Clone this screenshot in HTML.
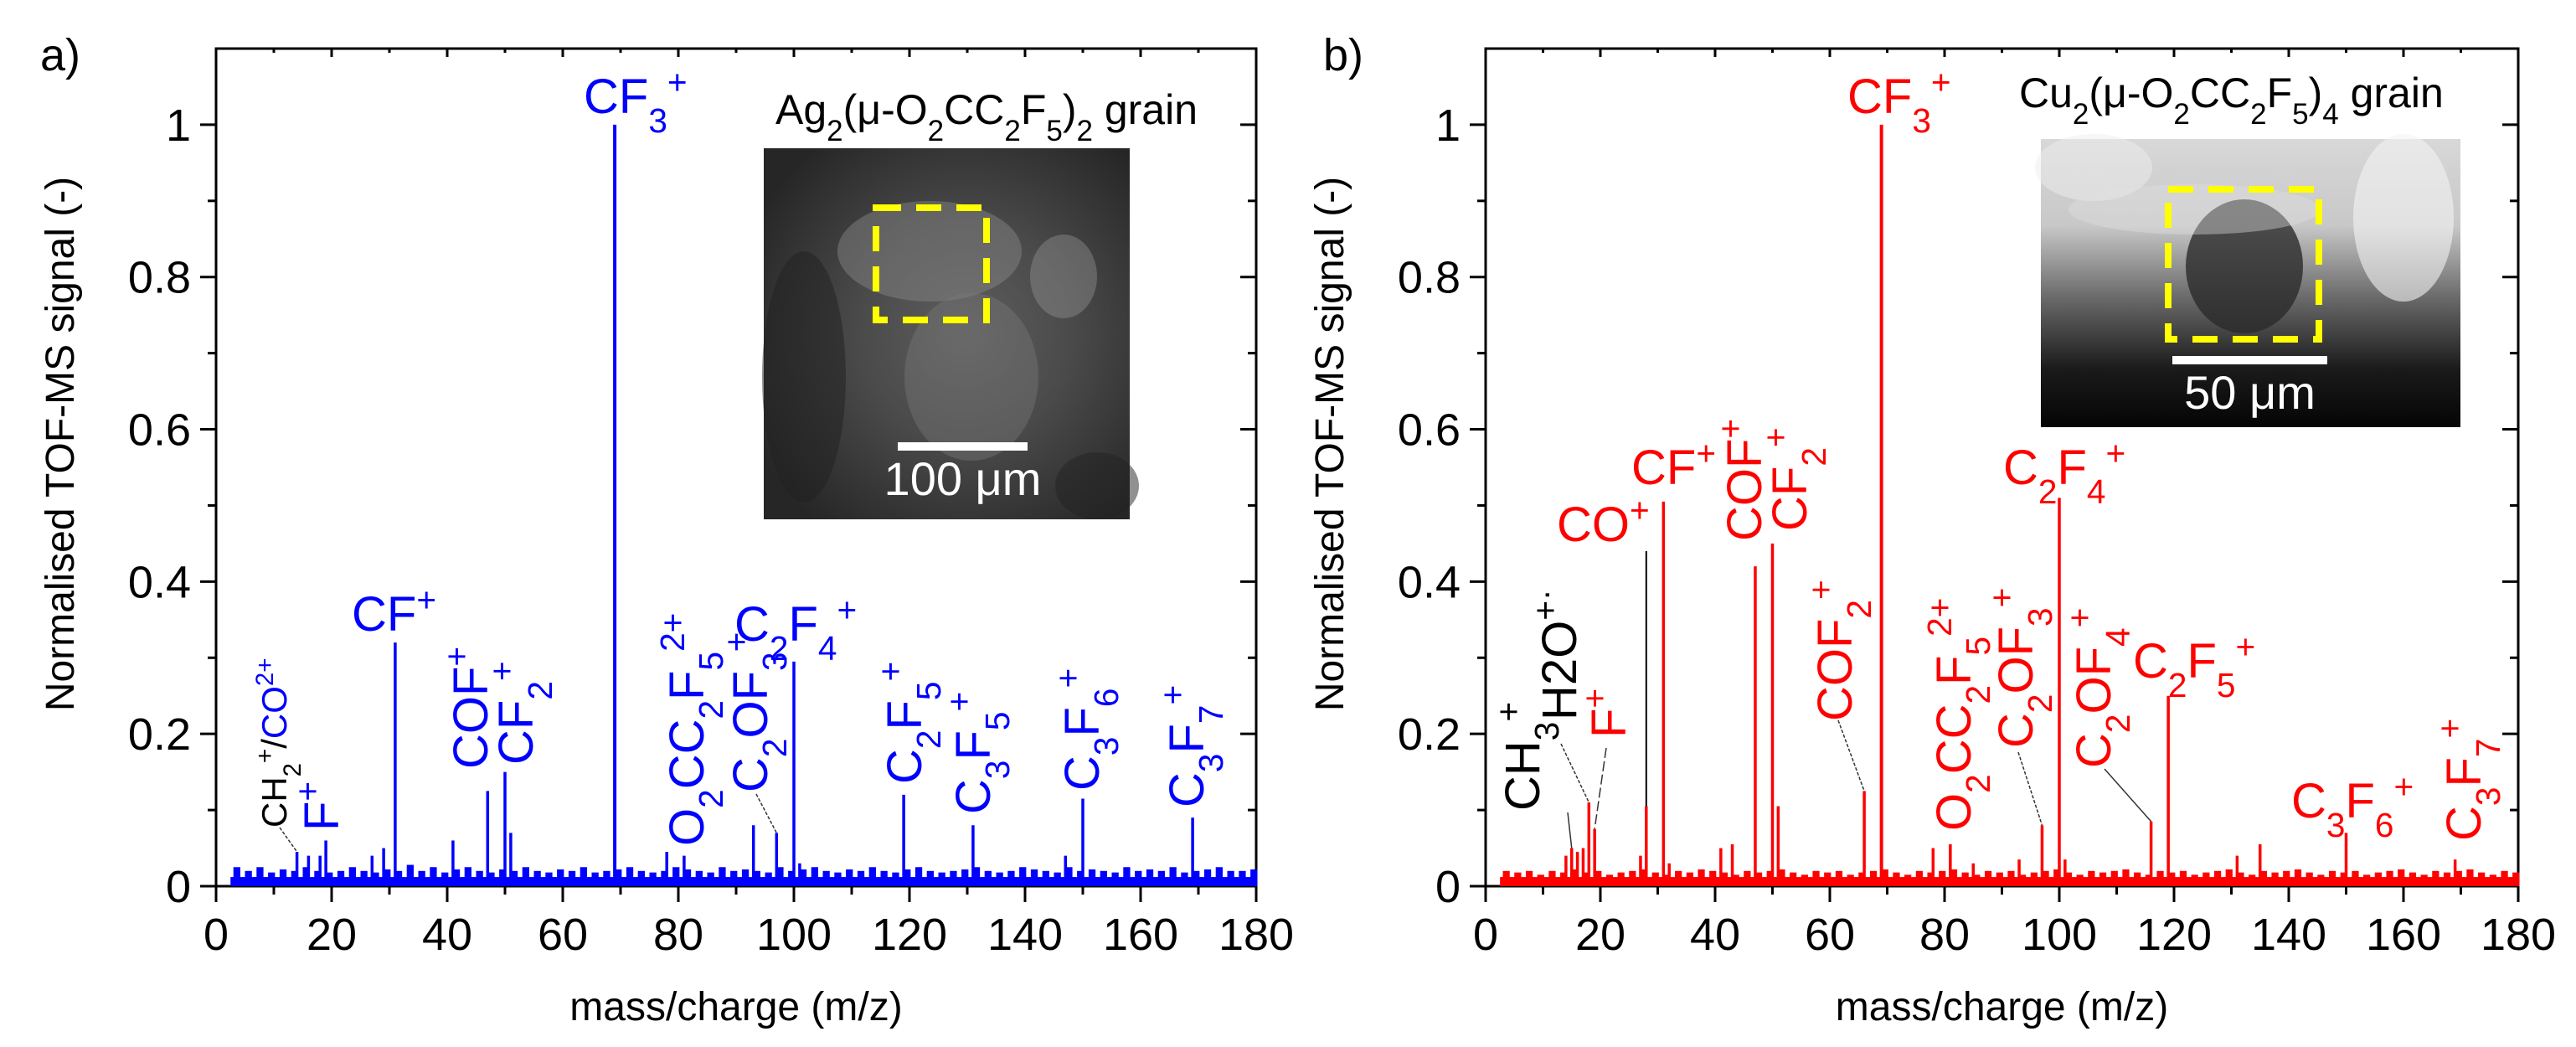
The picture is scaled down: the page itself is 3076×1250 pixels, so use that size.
<!DOCTYPE html>
<html><head><meta charset="utf-8">
<style>
html,body{margin:0;padding:0;background:#fff;}
svg{display:block;font-family:"Liberation Sans",sans-serif;}
</style></head>
<body>
<svg id="fig" width="3076" height="1250" viewBox="0 0 3076 1250" xmlns="http://www.w3.org/2000/svg">
<defs>
<radialGradient id="semA" cx="0.55" cy="0.5" r="0.65">
<stop offset="0" stop-color="#5e5e5e"/><stop offset="0.45" stop-color="#4a4a4a"/><stop offset="1" stop-color="#262626"/>
</radialGradient>
<linearGradient id="semB" x1="0" y1="0" x2="0" y2="1">
<stop offset="0" stop-color="#d8d8d8"/><stop offset="0.3" stop-color="#c8c8c8"/><stop offset="0.55" stop-color="#6a6a6a"/><stop offset="0.8" stop-color="#1a1a1a"/><stop offset="1" stop-color="#050505"/>
</linearGradient>
</defs>
<g id="panelA"></g>
<g id="panelB"></g>
</svg>
<script>
// ---------- data ----------
const xTicks = [0,20,40,60,80,100,120,140,160,180];
const yTicks = [0,0.2,0.4,0.6,0.8,1];
const yTickLabels = ["0","0.2","0.4","0.6","0.8","1"];
// panel a peaks
const peaksA_mz  = [14,16,18,19,27,29,31,41,47,50,51,69,78,81,93,97,100,101,119,131,147,150,169];
const peaksA_val = [0.045,0.04,0.04,0.06,0.04,0.05,0.32,0.06,0.125,0.15,0.07,1.0,0.045,0.04,0.08,0.07,0.295,0.03,0.12,0.08,0.04,0.115,0.09];
// panel b peaks
const peaksB_mz  = [14,15,16,17,18,19,27,28,31,32,41,43,47,50,51,66,69,78,81,85,93,97,100,101,116,119,131,135,150,169];
const peaksB_val = [0.04,0.05,0.045,0.05,0.11,0.075,0.04,0.105,0.505,0.03,0.05,0.055,0.42,0.45,0.105,0.125,1.0,0.05,0.055,0.03,0.035,0.08,0.51,0.035,0.085,0.25,0.04,0.055,0.07,0.035];
// baseline noise (every 2 m/z from 3)
const noiseA = [0.025,0.02,0.025,0.018,0.022,0.02,0.025,0.02,0.018,0.02,0.025,0.02,0.018,0.022,0.02,0.028,0.02,0.025,0.018,0.022,0.025,0.02,0.018,0.022,0.02,0.025,0.02,0.018,0.022,0.02,0.025,0.018,0.02,0.022,0.025,0.02,0.018,0.02,0.025,0.022,0.02,0.018,0.025,0.02,0.022,0.02,0.018,0.025,0.02,0.022,0.025,0.02,0.018,0.022,0.02,0.025,0.02,0.018,0.022,0.025,0.02,0.018,0.02,0.022,0.025,0.02,0.018,0.02,0.025,0.022,0.02,0.018,0.025,0.02,0.022,0.02,0.018,0.025,0.02,0.022,0.02,0.025,0.018,0.02,0.022,0.025,0.02,0.02,0.022];
const noiseB = [0.02,0.018,0.02,0.015,0.02,0.018,0.022,0.018,0.02,0.015,0.018,0.02,0.022,0.018,0.015,0.02,0.018,0.022,0.02,0.018,0.015,0.02,0.018,0.02,0.022,0.018,0.015,0.02,0.018,0.02,0.015,0.018,0.02,0.022,0.018,0.015,0.02,0.018,0.02,0.022,0.018,0.015,0.02,0.018,0.02,0.015,0.018,0.02,0.022,0.018,0.015,0.02,0.018,0.02,0.022,0.018,0.015,0.02,0.018,0.02,0.015,0.018,0.02,0.022,0.018,0.015,0.02,0.018,0.02,0.022,0.018,0.015,0.02,0.018,0.02,0.015,0.018,0.02,0.022,0.018,0.015,0.02,0.018,0.02,0.022,0.018,0.015,0.02,0.018];

const NS="http://www.w3.org/2000/svg";
function mk(parent, tag, attrs){
  const e=document.createElementNS(NS,tag);
  for(const k in attrs) e.setAttribute(k,attrs[k]);
  parent.appendChild(e); return e;
}
const sub=t=>`<tspan baseline-shift="sub" font-size="70%">${t}</tspan>`;
const sup=t=>`<tspan baseline-shift="super" font-size="70%">${t}</tspan>`;

function panel(g, P){
  const L=P.left, R=P.right, T=58, B=1058;
  const xs=v=>L+(v/180)*(R-L);
  const ys=v=>B-(v/1.1)*(B-T);
  const box=mk(g,'rect',{x:L,y:T,width:R-L,height:B-T,fill:'none',stroke:'#000','stroke-width':3});
  
  
  for(let v=0; v<=180; v+=10){
    const major = v%20===0;
    const t=mk(g,'line',{x1:xs(v),x2:xs(v),y1:B,y2:B+(major?19:10),stroke:'#000','stroke-width':3});
    
    
    const t2=mk(g,'line',{x1:xs(v),x2:xs(v),y1:T,y2:T+(major?10:5),stroke:'#000','stroke-width':3});
    
    
  }
  xTicks.forEach(v=>{
    const tx=mk(g,'text',{x:xs(v),y:1134,'font-size':54,'text-anchor':'middle',fill:'#000'});
    tx.textContent=String(v);
    
    
  });
  for(let i=0;i<=10;i++){
    const v=i*0.1, major=i%2===0;
    const t=mk(g,'line',{x1:L-(major?19:10),x2:L,y1:ys(v),y2:ys(v),stroke:'#000','stroke-width':3});
    
    
    const t2=mk(g,'line',{x1:R-(major?19:10),x2:R,y1:ys(v),y2:ys(v),stroke:'#000','stroke-width':3});
    
    
  }
  yTicks.forEach((v,i)=>{
    const tx=mk(g,'text',{x:L-30,y:ys(v)+19,'font-size':54,'text-anchor':'end',fill:'#000'});
    tx.textContent=yTickLabels[i];
    
    
  });
  const yt=mk(g,'text',{x:0,y:0,'font-size':48,'text-anchor':'middle',fill:'#000',transform:`translate(${P.ytx},530) rotate(-90)`});
  yt.textContent='Normalised TOF-MS signal (-)';
  
  
  const xt=mk(g,'text',{x:(L+R)/2,y:1218,'font-size':48,'text-anchor':'middle',fill:'#000'});
  xt.textContent='mass/charge (m/z)';
  
  
  const pl=mk(g,'text',{x:P.plx,y:84,'font-size':54,fill:'#000'});
  pl.textContent=P.tag;
  
  
  const base=mk(g,'rect',{x:xs(2.5),y:ys(0.012),width:xs(180)-xs(2.5),height:B-ys(0.012),fill:P.color});
  
  
  P.noise.forEach((v,i)=>{
    const m=3+i*2;
    const r=mk(g,'rect',{x:xs(m),y:ys(v),width:xs(m+1.2)-xs(m),height:B-ys(v),fill:P.color});
    
    
  });
  P.mz.forEach((m,i)=>{
    const ln=mk(g,'line',{x1:xs(m),x2:xs(m),y1:B,y2:ys(P.val[i]),stroke:P.color,'stroke-width':m===69?4:3.5});
    
    
  });
  P.leaders.forEach(d=>{
    const l=mk(g,'line',{x1:d[0],y1:d[1],x2:xs(d[2]),y2:ys(d[3]),stroke:'#333','stroke-width':1.5,'stroke-dasharray':d[4]||'4,2'});
    
    
  });
  (P.vleaders||[]).forEach(d=>{
    const l=mk(g,'line',{x1:xs(d[0]),y1:ys(d[2]),x2:xs(d[0]),y2:ys(d[1]),stroke:'#000','stroke-width':2});
    
    
  });
  P.labels.forEach(d=>{
    const [x,y,html,rot,col,fs]=d;
    const t=mk(g,'text',{x:0,y:0,'font-size':fs||58,fill:col||P.color,transform:rot?`translate(${x},${y}) rotate(-90)`:`translate(${x},${y})`});
    t.innerHTML=html;
    
    
  });
  const I=P.inset;
  const ti=mk(g,'text',{x:I.tx,y:I.ty,'font-size':50,fill:'#000'});
  ti.innerHTML=I.title;
  
  
  const img=mk(g,'g',{});
  
  
  mk(img,'rect',{x:I.x,y:I.y,width:I.w,height:I.h,fill:I.fill});
  I.blobs.forEach(b=>mk(img,'ellipse',{cx:b[0],cy:b[1],rx:b[2],ry:b[3],fill:b[4],opacity:b[5]}));
  const yb=mk(g,'rect',{x:I.bx,y:I.by,width:I.bw,height:I.bh,fill:'none',stroke:'#ffff00','stroke-width':8,'stroke-dasharray':'30,18'});
  
  
  const sb=mk(g,'rect',{x:I.sx1,y:I.sy-5,width:I.sx2-I.sx1,height:10,fill:'#fff'});
  
  
  const st=mk(g,'text',{x:(I.sx1+I.sx2)/2,y:I.sy+58,'font-size':56,'text-anchor':'middle',fill:'#fff'});
  st.textContent=I.scale;
  
  
}

panel(document.getElementById('panelA'),{
  left:258,right:1500,color:'#0000ff',ytx:88,plx:48,tag:'a)',
  mz:peaksA_mz,val:peaksA_val,noise:noiseA,
  leaders:[[334,988,14,0.045],[903,948,97,0.07]],
  labels:[
    [697,135,'CF'+sub('3')+sup('+'),0],
    [420,753,'CF'+sup('+'),0],
    [877,765,'C'+sub('2')+'F'+sub('4')+sup('+'),0],
    [342,988,'<tspan fill="#000">CH'+sub('2')+sup('+')+'/</tspan>CO'+sup('2+'),1,'#0000ff',42],
    [404,992,'F'+sup('+'),1],
    [582,918,'COF'+sup('+'),1],
    [636,913,'CF'+sub('2')+sup('+'),1],
    [840,1010,'O'+sub('2')+'CC'+sub('2')+'F'+sub('5')+sup('2+'),1],
    [916,946,'C'+sub('2')+'OF'+sub('3')+sup('+'),1],
    [1100,936,'C'+sub('2')+'F'+sub('5')+sup('+'),1],
    [1182,972,'C'+sub('3')+'F'+sub('5')+sup('+'),1],
    [1312,944,'C'+sub('3')+'F'+sub('6')+sup('+'),1],
    [1437,964,'C'+sub('3')+'F'+sub('7')+sup('+'),1]
  ],
  inset:{x:912,y:177,w:437,h:443,fill:'url(#semA)',tx:926,ty:148,
    title:'Ag'+sub('2')+'(μ-O'+sub('2')+'CC'+sub('2')+'F'+sub('5')+')'+sub('2')+' grain',
    blobs:[[1110,300,110,60,'#8a8a8a',0.45],[1160,450,80,100,'#7a7a7a',0.4],[1270,330,40,50,'#999',0.4],[960,450,50,150,'#1f1f1f',0.5],[1310,580,50,40,'#222',0.5]],
    bx:1046,by:248,bw:132,bh:134,sx1:1072,sx2:1227,sy:533,scale:'100 μm'}
});

panel(document.getElementById('panelB'),{
  left:1774,right:3007,color:'#ff0000',ytx:1604,plx:1580,tag:'b)',
  mz:peaksB_mz,val:peaksB_val,noise:noiseB,
  vleaders:[[28,0.105,0.44]],
  leaders:[[1872,970,15,0.05,'none'],[1864,888,18,0.11],[1918,893,19,0.075,'12,4'],[2195,860,66,0.125],[2410,898,97,0.08],[2513,918,116,0.085,'none']],
  labels:[
    [2206,135,'CF'+sub('3')+sup('+'),0],
    [1948,578,'CF'+sup('+'),0],
    [1859,646,'CO'+sup('+'),0],
    [2392,578,'C'+sub('2')+'F'+sub('4')+sup('+'),0],
    [2547,809,'C'+sub('2')+'F'+sub('5')+sup('+'),0],
    [2736,976,'C'+sub('3')+'F'+sub('6')+sup('+'),0],
    [1838,968,'CH'+sub('3')+sup('+'),1,'#000'],
    [1882,860,'H2O'+sup('+·'),1,'#000'],
    [1941,881,'F'+sup('+'),1],
    [2103,646,'COF'+sup('+'),1],
    [2157,634,'CF'+sub('2')+sup('+'),1],
    [2211,861,'COF'+sub('2')+sup('+'),1],
    [2353,992,'O'+sub('2')+'CC'+sub('2')+'F'+sub('5')+sup('2+'),1],
    [2427,893,'C'+sub('2')+'OF'+sub('3')+sup('+'),1],
    [2520,917,'C'+sub('2')+'OF'+sub('4')+sup('+'),1],
    [2962,1004,'C'+sub('3')+'F'+sub('7')+sup('+'),1]
  ],
  inset:{x:2437,y:166,w:501,h:344,fill:'url(#semB)',tx:2411,ty:128,
    title:'Cu'+sub('2')+'(μ-O'+sub('2')+'CC'+sub('2')+'F'+sub('5')+')'+sub('4')+' grain',
    blobs:[[2680,318,70,80,'#2a2a2a',0.8],[2870,260,60,100,'#f4f4f4',0.6],[2500,200,70,40,'#eee',0.5],[2620,250,150,30,'#e0e0e0',0.4]],
    bx:2589,by:226,bw:180,bh:179,sx1:2594,sx2:2779,sy:430,scale:'50 μm'}
});
</script>
</body></html>
